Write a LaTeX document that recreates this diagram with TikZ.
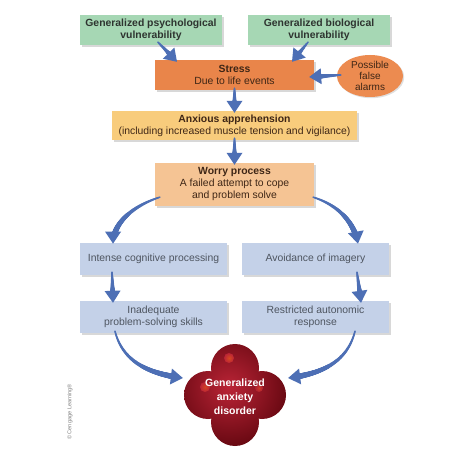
\documentclass[tikz,border=0pt]{standalone}
\usepackage{fontspec}
\setmainfont{Liberation Sans}
\usetikzlibrary{shapes.geometric,shadows,decorations.markings,calc}
\definecolor{cgreen}{HTML}{A6D7B4}
\definecolor{cstress}{HTML}{E9854A}
\definecolor{calarm}{HTML}{EC8B50}
\definecolor{canx}{HTML}{F8CC7C}
\definecolor{cworry}{HTML}{F5C494}
\definecolor{cblue}{HTML}{C4D1E8}
\definecolor{ctext}{HTML}{2E3430}
\definecolor{cbrown}{HTML}{3E2616}
\definecolor{cgray}{HTML}{4E5560}
\definecolor{arrowblue}{HTML}{4D6FB5}
\definecolor{gaddark}{HTML}{640710}
\definecolor{gadmid}{HTML}{A0152A}
\definecolor{gadlight}{HTML}{BA2436}
\begin{document}
\begin{tikzpicture}[x=1pt,y=-1pt,
  box/.style={rectangle, inner sep=0pt, align=center,
    font=\fontsize{10.4}{12}\selectfont,
    drop shadow={shadow xshift=1.6pt, shadow yshift=-1.8pt, opacity=0.3}},
  taper/.style={decorate, decoration={markings,
    mark=between positions 0 and 1 step 0.4pt with {
      \pgfmathsetmacro\tpd{\pgfkeysvalueof{/pgf/decoration/mark info/distance from start}}
      \pgfmathsetmacro\tpL{\pgfdecoratedpathlength}
      \pgfmathsetmacro\tpr{0.8+2.3*\tpd/\tpL}
      \ifdim\tpd pt<\dimexpr\tpL pt-9pt\relax
        \fill[arrowblue] (0pt,0pt) circle (\tpr pt);
      \fi},
    mark=at position 1 with {
      \fill[arrowblue] (0pt,0pt) -- (-12pt,8pt) -- (-12pt,-8pt) -- cycle;}
  }}
]
\useasboundingbox (0,0) rectangle (474,454);
\fill[white] (0,0) rectangle (474,454);

% boxes
\node[box, fill=cgreen, text=ctext, minimum width=142pt, minimum height=30pt] (psych) at (151,30)
  {\textbf{Generalized psychological}\\\textbf{vulnerability}};
\node[box, fill=cgreen, text=ctext, minimum width=142pt, minimum height=30pt] (bio) at (319,30)
  {\textbf{Generalized biological}\\\textbf{vulnerability}};
\node[box, fill=cstress, text=cbrown, minimum width=159pt, minimum height=30pt] (stress) at (234.5,75)
  {\textbf{Stress}\\Due to life events};
\node[ellipse, fill=calarm, minimum width=66pt, minimum height=42pt, inner sep=0pt,
  drop shadow={shadow xshift=1.2pt, shadow yshift=-1.2pt, opacity=0.25}] (alarm) at (370,76) {};
\node[align=center, text=cbrown, font=\fontsize{10}{11}\selectfont, inner sep=0pt] (alarmtext) at (alarm)
  {Possible\\false\\alarms};
\node[box, fill=canx, text=cbrown, minimum width=245pt, minimum height=29pt] (anxious) at (234.5,125.5)
  {\textbf{Anxious apprehension}\\(including increased muscle tension and vigilance)};
\node[box, fill=cworry, text=cbrown, minimum width=159pt, minimum height=43pt] (worry) at (234.5,184.5)
  {\textbf{Worry process}\\A failed attempt to cope\\and problem solve};
\node[box, fill=cblue, text=cgray, minimum width=147pt, minimum height=32pt] (intense) at (153.5,259)
  {Intense cognitive processing};
\node[box, fill=cblue, text=cgray, minimum width=147pt, minimum height=32pt] (avoid) at (315.5,259)
  {Avoidance of imagery};
\node[box, fill=cblue, text=cgray, minimum width=147pt, minimum height=32pt] (inadequate) at (153.5,317)
  {Inadequate\\problem-solving skills};
\node[box, fill=cblue, text=cgray, minimum width=147pt, minimum height=32pt] (restrict) at (315.5,317)
  {Restricted autonomic\\response};

% GAD blob
\coordinate (gad) at (235,395);
\begin{scope}
  \clip ($(gad)+(0,-27)$) circle (24pt) ($(gad)+(-27,0)$) circle (24pt)
        ($(gad)+(27,0)$) circle (24pt) ($(gad)+(0,27)$) circle (24pt)
        (gad) circle (30pt);
  \shade[inner color=gadlight, outer color=gaddark] ($(gad)+(-6,-8)$) circle (62pt);
  \shade[inner color=gadlight!60!orange, outer color=gadlight] ($(gad)+(-6,-37)$) circle (5pt);
  \shade[inner color=gadlight!65!orange, outer color=gadlight] ($(gad)+(-30,-8)$) circle (5pt);
  \shade[inner color=gadlight!75!orange, outer color=gadlight!85!gaddark] ($(gad)+(24,-7)$) circle (4pt);
\end{scope}
\node[align=center, text=white, font=\bfseries\fontsize{10.5}{14}\selectfont, inner sep=0pt] (gadtext) at ($(gad)+(0,2)$)
  {Generalized\\anxiety\\disorder};

% copyright
\node[rotate=90, text=gray, font=\fontsize{5.6}{6}\selectfont, inner sep=0pt] (copy) at (70,412)
  {© Cengage Learning®};

% arrows
\path[taper] ($(psych.south)+(7,-3)$) -- ($(stress.north)+(-57.5,2)$);
\path[taper] ($(bio.south)+(-11,-3)$) -- ($(stress.north)+(57.5,2)$);
\path[taper] ($(alarm.west)+(4,-1)$) -- ($(stress.east)+(-5,2)$);
\path[taper] ($(stress.south)+(0,-2)$) -- ($(anxious.north)+(0,2)$);
\path[taper] ($(anxious.south)+(0,-2)$) -- ($(worry.north)+(0,2)$);

\coordinate (w1) at ($(worry.south west)+(5,-9)$);
\coordinate (i1) at ($(intense.north)+(-40.5,1)$);
\path[taper] (w1) .. controls ($(w1)+(-25,8)$) and ($(i1)+(0,-22)$) .. (i1);
\coordinate (w2) at ($(worry.south east)+(-1,-9)$);
\coordinate (a1) at ($(avoid.north)+(42.5,1)$);
\path[taper] (w2) .. controls ($(w2)+(25,8)$) and ($(a1)+(-4,-22)$) .. (a1);

\path[taper] ($(intense.south)+(-41.5,-3)$) -- ($(inadequate.north)+(-40.5,2)$);
\path[taper] ($(avoid.south)+(41.5,-3)$) -- ($(restrict.north)+(45.5,2)$);

\coordinate (d1) at ($(inadequate.south)+(-38.5,-2)$);
\coordinate (g1) at ($(gad)+(-52,-17)$);
\path[taper] (d1) .. controls ($(d1)+(8,32)$) and ($(g1)+(-32,-4)$) .. (g1);
\coordinate (d2) at ($(restrict.south)+(39.5,-2)$);
\coordinate (g2) at ($(gad)+(53,-17)$);
\path[taper] (d2) .. controls ($(d2)+(-8,32)$) and ($(g2)+(32,-4)$) .. (g2);
\end{tikzpicture}
\end{document}
